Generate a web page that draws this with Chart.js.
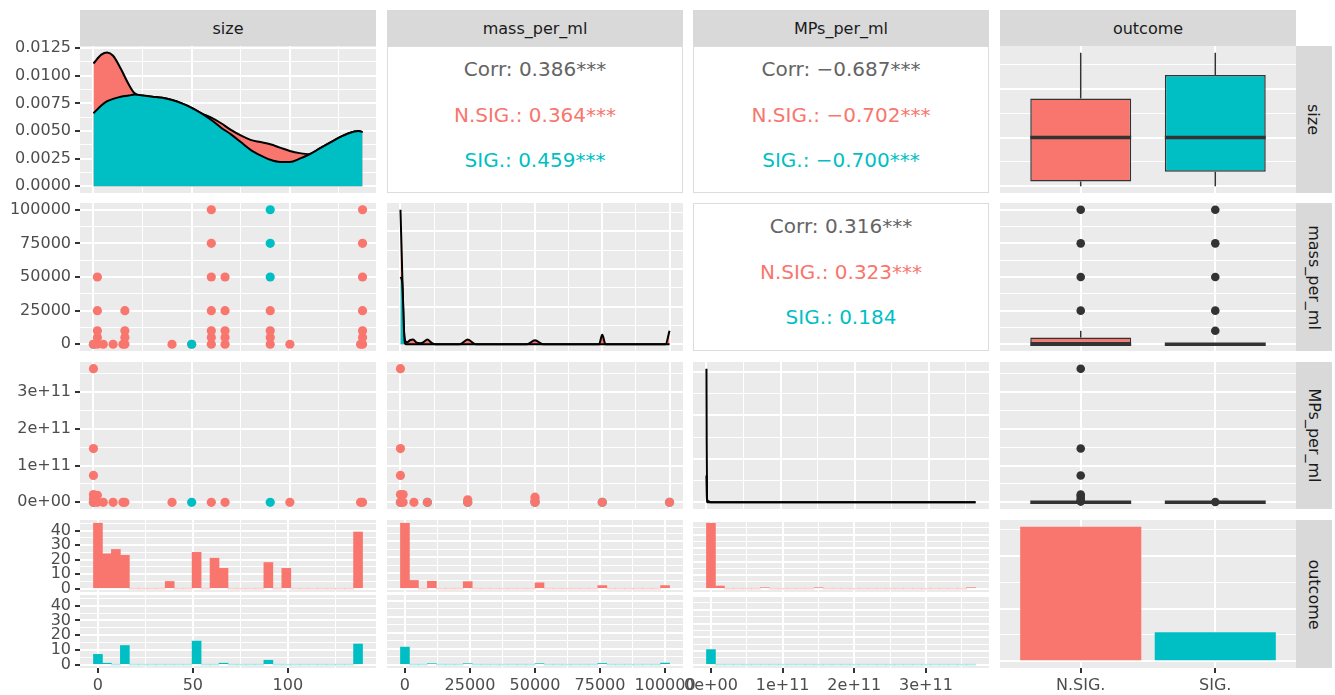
<!DOCTYPE html>
<html>
<head>
<meta charset="utf-8">
<title>Pairs matrix: size, mass_per_ml, MPs_per_ml, outcome</title>
<script src="https://cdn.jsdelivr.net/npm/chart.js@4.4.1/dist/chart.umd.min.js"></script>
<style>
  html, body { margin: 0; padding: 0; background: #ffffff; }
  #fig { position: relative; width: 1335px; height: 695px; overflow: hidden; font-family: "DejaVu Sans", sans-serif; }
  #fig canvas { position: absolute; }
  .strip { position: absolute; background: #D9D9D9; color: #1A1A1A; font-size: 16px;
           display: flex; align-items: center; justify-content: center; white-space: nowrap; }
  .strip.v span { display: inline-block; transform: rotate(90deg); }
  .corr { position: absolute; background: #ffffff; border: 1px solid #DCDCDC; box-sizing: border-box; }
  .corr div { position: absolute; left: 0; right: 0; text-align: center; font-size: 20px; line-height: 22px; white-space: nowrap; }
</style>
</head>
<body>
<div id="fig"></div>
<script>
// ------------------------------------------------------------------
// Data
// ------------------------------------------------------------------
const variables = ['size', 'mass_per_ml', 'MPs_per_ml', 'outcome'];
const outcomeLevels = ['N.SIG.', 'SIG.'];
const outcomeCounts = [255, 55];

// correlation summaries (overall, N.SIG., SIG.)
const corrSizeMass = ['0.386***', '0.364***', '0.459***'];
const corrSizeMps  = ['\u22120.687***', '\u22120.702***', '\u22120.700***'];
const corrMassMps  = ['0.316***', '0.323***', '0.184'];

// kernel density of size, by outcome
const sizeDensX    = [0, 4, 7, 10, 14, 18, 21, 25, 30, 35, 40, 45, 50, 55, 60, 65, 70, 75, 80, 85, 90, 95, 100, 105, 110, 115, 120, 125, 130, 135, 137];
const sizeDensNSIG = [0.0111, 0.0119, 0.0121, 0.0118, 0.0106, 0.0092, 0.0084, 0.0082, 0.0081, 0.0080, 0.0078, 0.0075, 0.0071, 0.0066, 0.0062, 0.0057, 0.0051, 0.0046, 0.0042, 0.0040, 0.0038, 0.0035, 0.0032, 0.0030, 0.0029, 0.0034, 0.0039, 0.0044, 0.0048, 0.0050, 0.0049];
const sizeDensSIG  = [0.0066, 0.0073, 0.0077, 0.0079, 0.0081, 0.0082, 0.0083, 0.0082, 0.0081, 0.0080, 0.0078, 0.0075, 0.0071, 0.0066, 0.0060, 0.0053, 0.0047, 0.0040, 0.0033, 0.0028, 0.0024, 0.0022, 0.0022, 0.0025, 0.0029, 0.0034, 0.0039, 0.0044, 0.0048, 0.0050, 0.0049];

// kernel density of mass_per_ml (relative height), by outcome
const massDensNSIGX = [0, 400, 800, 1200, 1700, 2500, 3500, 4700, 6000, 7500, 8500, 10000, 11500, 13000, 22000, 25000, 28000, 47000, 50000, 53000, 73800, 75000, 76200, 98500, 100000];
const massDensNSIG  = [1.0, 0.72, 0.42, 0.15, 0.03, 0.015, 0.03, 0.035, 0.012, 0.008, 0.015, 0.035, 0.012, 0, 0, 0.035, 0, 0, 0.03, 0, 0, 0.07, 0, 0, 0.1];
const massDensSIGX  = [0, 600, 1000, 1400, 2000, 100000];
const massDensSIG   = [0.5, 0.47, 0.3, 0.06, 0, 0];

// kernel density of MPs_per_ml (relative height), by outcome
const mpsDensNSIGX = [0, 3e8, 8e8, 2e9, 6e9, 3.63e11];
const mpsDensNSIG  = [1.0, 0.45, 0.03, 0.01, 0, 0];
const mpsDensSIGX  = [0, 4e8, 1e9, 3.63e11];
const mpsDensSIG   = [0.2, 0.05, 0, 0];

// size vs mass_per_ml
const sizeMassNSIG = [[0,0],[2,0],[2,5000],[2,10000],[2,25000],[2,50000],[5,0],[10,0],[15,0],[16,0],[16,5000],[16,10000],[16,25000],
  [40,0],[50,0],[60,0],[60,5000],[60,10000],[60,25000],[60,50000],[60,75000],[60,100000],
  [67,0],[67,5000],[67,10000],[67,25000],[67,50000],[90,0],[90,5000],[90,10000],[90,25000],[100,0],
  [136,0],[137,0],[137,5000],[137,10000],[137,25000],[137,50000],[137,75000],[137,100000]];
const sizeMassSIG = [[0,0],[50,0],[90,50000],[90,75000],[90,100000]];

// size vs MPs_per_ml
const sizeMpsNSIG = [[0,3.63e11],[0,1.46e11],[0,0.73e11],[0,0.21e11],[2,0.19e11],[0,0.1e11],[0,0],[2,0],[5,0],[10,0],[15,0],[16,0],
  [40,0],[60,0],[67,0],[100,0],[136,0],[137,0]];
const sizeMpsSIG = [[0,0],[50,0],[90,0]];

// mass_per_ml vs MPs_per_ml
const massMpsNSIG = [[0,3.63e11],[0,1.46e11],[0,0.73e11],[0,0.21e11],[1000,0.21e11],[0,0],[1000,0],[5000,0],[10000,0],
  [25000,0.07e11],[25000,0],[50000,0.14e11],[50000,0.05e11],[50000,0],[75000,0],[100000,0]];
const massMpsSIG = [[0,0],[10000,0],[25000,0],[50000,0],[75000,0],[100000,0]];

// box statistics per outcome: [lower whisker, Q1, median, Q3, upper whisker]
const sizeBox = [[0, 5, 50, 90, 137], [0, 15, 50, 114, 137]];
const massBox = [[0, 0, 0, 5000, 10000], [0, 0, 0, 0, 0]];
const massOutNSIG = [25000, 50000, 75000, 100000];
const massOutSIG  = [10000, 25000, 50000, 75000, 100000];
const mpsBox = [[0, 0, 0, 0, 0], [0, 0, 0, 0, 0]];
const mpsOutNSIG = [3.63e11, 1.46e11, 0.73e11, 0.21e11, 0.17e11, 0.1e11, 0.05e11, 0.02e11];
const mpsOutSIG  = [0.01e11];

// histogram counts, 30 bins each, by outcome
const sizeBinWidth = 137 / 29;
const sizeHistNSIG = [45,24,27,23,0,0,0,0,5,0,0,25,0,21,14,0,0,0,0,18,0,14,0,0,0,0,0,0,0,39];
const sizeHistSIG  = [7,1,0,13,0,0,0,0,0,0,0,16,0,0,1,0,0,0,0,3,0,0,0,0,0,0,0,0,0,14];
const massBinWidth = 100000 / 29;
const massHistNSIG = [166,21,0,19,0,0,0,18,0,0,0,0,0,0,0,15,0,0,0,0,0,0,8,0,0,0,0,0,0,8];
const massHistSIG  = [44,0,0,2,0,0,0,1,0,0,0,0,0,0,0,1,0,0,0,0,0,0,3,0,0,0,0,0,0,4];
const mpsBinWidth  = 3.63e11 / 29;
const mpsHistNSIG  = [242,10,0,0,0,0,1,0,0,0,0,0,1,0,0,0,0,0,0,0,0,0,0,0,0,0,0,0,0,1];
const mpsHistSIG   = [55,0,0,0,0,0,0,0,0,0,0,0,0,0,0,0,0,0,0,0,0,0,0,0,0,0,0,0,0,0];

// ------------------------------------------------------------------
// Styling and layout
// ------------------------------------------------------------------
const RED = '#F8766D', TEAL = '#00BFC4', DARK = '#333333';
const RED_ZERO = 'rgba(248,118,109,0.30)', TEAL_ZERO = 'rgba(0,191,196,0.30)';
const CORR_GREY = '#646464';
const FONT = {family: "'DejaVu Sans', sans-serif", size: 16};

const colX = [80, 387, 693, 1000], colW = 296;
const rowY = [46, 203, 362, 520], rowH = [147, 148, 147, 148];
const facetTop = {y: 520, h: 72}, facetBottom = {y: 595, h: 73};
const corrLineY = [22, 68, 113];

const fmtInt  = v => String(v);
const fmtDens = v => v.toFixed(4);
const fmtSci  = v => (v === 0 ? '0e+00' : (v / 1e11) + 'e+11');
const fmtOut  = v => outcomeLevels[v - 1];

const AX = {
  sizeX:     {min: -6.85, max: 143.85, majors: [0, 50, 100], minors: [25, 75, 125], fmt: fmtInt},
  sizeBinX:  {min: -9.45, max: 146.45, majors: [0, 50, 100], minors: [25, 75, 125], fmt: fmtInt},
  massX:     {min: -5000, max: 105000, majors: [0, 25000, 50000, 75000, 100000], minors: [12500, 37500, 62500, 87500], fmt: fmtInt},
  massBinX:  {min: -6896, max: 106896, majors: [0, 25000, 50000, 75000, 100000], minors: [12500, 37500, 62500, 87500], fmt: fmtInt},
  mpsX:      {min: -0.1815e11, max: 3.8115e11, majors: [0, 1e11, 2e11, 3e11], minors: [0.5e11, 1.5e11, 2.5e11, 3.5e11], fmt: fmtSci},
  mpsBinX:   {min: -0.2504e11, max: 3.8803e11, majors: [0, 1e11, 2e11, 3e11], minors: [0.5e11, 1.5e11, 2.5e11, 3.5e11], fmt: fmtSci},
  outX:      {min: 0.4, max: 2.6, majors: [1, 2], minors: [], fmt: fmtOut},
  sizeDensY: {min: -0.000604, max: 0.012684, majors: [0, 0.0025, 0.005, 0.0075, 0.01, 0.0125], minors: [0.00125, 0.00375, 0.00625, 0.00875, 0.01125], fmt: fmtDens},
  sizeY:     {min: -6.85, max: 143.85, majors: [0, 50, 100], minors: [25, 75, 125], fmt: fmtInt},
  massY:     {min: -5000, max: 105000, majors: [0, 25000, 50000, 75000, 100000], minors: [12500, 37500, 62500, 87500], fmt: fmtInt},
  mpsY:      {min: -0.1815e11, max: 3.8115e11, majors: [0, 1e11, 2e11, 3e11], minors: [0.5e11, 1.5e11, 2.5e11, 3.5e11], fmt: fmtSci},
  massDensY: {min: -0.05, max: 1.05, majors: [0, 0.28, 0.56, 0.84], minors: [0.14, 0.42, 0.7, 0.98], fmt: fmtInt},
  mpsDensY:  {min: -0.05, max: 1.05, majors: [0, 0.325, 0.65, 0.975], minors: [0.1625, 0.4875, 0.8125], fmt: fmtInt},
  countY:    {min: -2.25, max: 47.25, majors: [0, 10, 20, 30, 40], minors: [5, 15, 25, 35, 45], fmt: fmtInt},
  massCountY:{min: -8.3, max: 174.3, majors: [0, 40, 80, 120, 160], minors: [20, 60, 100, 140], fmt: fmtInt},
  mpsCountY: {min: -12.1, max: 254.1, majors: [0, 50, 100, 150, 200, 250], minors: [25, 75, 125, 175, 225], fmt: fmtInt},
  outCountY: {min: -12.75, max: 267.75, majors: [0, 100, 200], minors: [50, 150, 250], fmt: fmtInt}
};

// ------------------------------------------------------------------
// Helpers
// ------------------------------------------------------------------
const fig = document.getElementById('fig');
Chart.defaults.font.family = FONT.family;

const pts  = arr => arr.map(([x, y]) => ({x, y}));
const zip  = (xs, ys) => xs.map((x, i) => ({x, y: ys[i]}));
const bins = (counts, width) => counts.map((c, k) => ({x: k * width, y: c}));

const panelBg = {
  id: 'panelBg',
  beforeDraw(chart) {
    const {ctx, chartArea: a} = chart;
    ctx.save();
    ctx.fillStyle = '#EBEBEB';
    ctx.fillRect(a.left, a.top, a.right - a.left, a.bottom - a.top);
    ctx.restore();
  }
};

// whiskers and median bar, drawn right after the box dataset
const boxWhiskers = {
  id: 'boxWhiskers',
  afterDatasetDraw(chart, args, opts) {
    if (!opts || !opts.stats || args.index !== opts.boxIndex) return;
    const {ctx, scales: {x, y}} = chart;
    ctx.save();
    ctx.strokeStyle = DARK;
    opts.stats.forEach((s, i) => {
      const pos = i + 1;
      const cx = x.getPixelForValue(pos);
      const hw = x.getPixelForValue(pos + opts.width / 2) - cx;
      const [lo, q1, med, q3, hi] = s.map(v => y.getPixelForValue(v));
      ctx.lineWidth = 1.5;
      ctx.beginPath();
      ctx.moveTo(cx, q3); ctx.lineTo(cx, hi);
      ctx.moveTo(cx, q1); ctx.lineTo(cx, lo);
      ctx.stroke();
      ctx.lineWidth = 3.5;
      ctx.beginPath();
      ctx.moveTo(cx - hw, med); ctx.lineTo(cx + hw, med);
      ctx.stroke();
    });
    ctx.restore();
  }
};

function scaleCfg(o, show, room, horizontal) {
  return {
    type: 'linear', min: o.min, max: o.max, bounds: 'data', offset: false,
    afterBuildTicks(s) {
      s.ticks = o.majors.map(v => ({value: v, isMajor: true}))
        .concat((o.minors || []).map(v => ({value: v, isMajor: false})))
        .sort((a, b) => a.value - b.value);
    },
    afterFit(s) {
      if (horizontal) s.height = show ? room : 0; else s.width = show ? room : 0;
    },
    ticks: {
      display: show, autoSkip: false, maxRotation: 0, minRotation: 0,
      padding: horizontal ? 3 : 4, font: FONT, color: '#4D4D4D',
      callback(v, i, ts) { return ts[i].isMajor ? o.fmt(v) : ''; }
    },
    grid: {
      offset: false, drawOnChartArea: true, color: '#FFFFFF',
      lineWidth: c => (c.tick && c.tick.isMajor) ? 2 : 1,
      drawTicks: show, tickLength: 5, tickWidth: 2,
      tickColor: c => (c.tick && c.tick.isMajor) ? DARK : 'rgba(0,0,0,0)'
    },
    border: {display: false}
  };
}

function makePanel(rect, cfg) {
  const M = 25, Y_ROOM = 80, X_ROOM = 27;
  const left = cfg.showY ? Y_ROOM : M;
  const bottom = cfg.showX ? X_ROOM : M;
  const cw = rect.w + left + M, ch = rect.h + M + bottom;
  const canvas = document.createElement('canvas');
  canvas.width = cw; canvas.height = ch;
  Object.assign(canvas.style, {left: (rect.x - left) + 'px', top: (rect.y - M) + 'px', width: cw + 'px', height: ch + 'px'});
  fig.appendChild(canvas);
  return new Chart(canvas, {
    type: cfg.type,
    data: {datasets: cfg.datasets},
    options: {
      responsive: false, maintainAspectRatio: false, animation: false, devicePixelRatio: 1, events: [],
      layout: {autoPadding: false, padding: {left: cfg.showY ? 0 : M, right: M, top: M, bottom: cfg.showX ? 0 : M}},
      plugins: Object.assign({legend: {display: false}, tooltip: {enabled: false}}, cfg.pluginOptions || {}),
      scales: {
        x: scaleCfg(cfg.xAxis, !!cfg.showX, X_ROOM, true),
        y: scaleCfg(cfg.yAxis, !!cfg.showY, Y_ROOM, false)
      }
    },
    plugins: [panelBg].concat(cfg.extraPlugins || [])
  });
}

const rectOf = (c, r) => ({x: colX[c], y: rowY[r], w: colW, h: rowH[r]});
const facetRect = (c, f) => ({x: colX[c], y: f.y, w: colW, h: f.h});

const densityDs = (data, fill) => ({
  type: 'line', data, borderColor: '#000000', borderWidth: 2, backgroundColor: fill, fill: 'origin',
  pointRadius: 0, cubicInterpolationMode: 'monotone'
});
const scatterDs = (data, color, r) => ({type: 'scatter', data, backgroundColor: color, borderWidth: 0, pointRadius: r || 4.6});
const histDs = (data, color, zero) => ({
  type: 'bar', data, backgroundColor: c => (c.raw && c.raw.y === 0) ? zero : color,
  barPercentage: 1, categoryPercentage: 1, minBarLength: 1, borderWidth: 0
});
const boxDatasets = (stats, outNSIG, outSIG) => [
  scatterDs(outNSIG.map(v => ({x: 1, y: v})).concat(outSIG.map(v => ({x: 2, y: v}))), DARK, 4.3),
  {type: 'bar', data: stats.map((s, i) => ({x: i + 1, y: [s[1], s[3]]})), backgroundColor: [RED, TEAL],
   borderColor: DARK, borderWidth: 1.5, borderSkipped: false, barPercentage: 0.75, categoryPercentage: 1}
];
// size scatter layers: SIG. points sit over N.SIG., except at size 0 where N.SIG. covers them
const sizeScatterDs = (nsig, sig) => [
  scatterDs(pts(sig.filter(p => p[0] !== 0)), TEAL),
  scatterDs(pts(nsig), RED),
  scatterDs(pts(sig.filter(p => p[0] === 0)), TEAL)
];

// ------------------------------------------------------------------
// Strips
// ------------------------------------------------------------------
variables.forEach((name, c) => {
  const d = document.createElement('div');
  d.className = 'strip';
  Object.assign(d.style, {left: colX[c] + 'px', top: '10px', width: colW + 'px', height: '36px'});
  d.textContent = name;
  fig.appendChild(d);
});
variables.forEach((name, r) => {
  const d = document.createElement('div');
  d.className = 'strip v';
  Object.assign(d.style, {left: '1296px', top: rowY[r] + 'px', width: '36px', height: rowH[r] + 'px'});
  const s = document.createElement('span');
  s.textContent = name;
  d.appendChild(s);
  fig.appendChild(d);
});

// ------------------------------------------------------------------
// Correlation panels
// ------------------------------------------------------------------
function corrPanel(c, r, vals) {
  const d = document.createElement('div');
  d.className = 'corr';
  Object.assign(d.style, {left: colX[c] + 'px', top: rowY[r] + 'px', width: colW + 'px', height: rowH[r] + 'px'});
  const lines = [['Corr: ' + vals[0], CORR_GREY], ['N.SIG.: ' + vals[1], RED], ['SIG.: ' + vals[2], TEAL]];
  lines.forEach(([txt, col], k) => {
    const t = document.createElement('div');
    t.textContent = txt;
    t.style.top = (corrLineY[k] - 11) + 'px';
    t.style.color = col;
    d.appendChild(t);
  });
  fig.appendChild(d);
}
corrPanel(1, 0, corrSizeMass);
corrPanel(2, 0, corrSizeMps);
corrPanel(2, 1, corrMassMps);

// ------------------------------------------------------------------
// Row 1: size
// ------------------------------------------------------------------
makePanel(rectOf(0, 0), {
  type: 'line', showY: true, xAxis: AX.sizeX, yAxis: AX.sizeDensY,
  datasets: [densityDs(zip(sizeDensX, sizeDensSIG), TEAL), densityDs(zip(sizeDensX, sizeDensNSIG), RED)]
});
makePanel(rectOf(3, 0), {
  type: 'bar', xAxis: AX.outX, yAxis: AX.sizeY,
  datasets: boxDatasets(sizeBox, [], []),
  extraPlugins: [boxWhiskers], pluginOptions: {boxWhiskers: {stats: sizeBox, width: 0.75, boxIndex: 1}}
});

// ------------------------------------------------------------------
// Row 2: mass_per_ml
// ------------------------------------------------------------------
makePanel(rectOf(0, 1), {
  type: 'scatter', showY: true, xAxis: AX.sizeX, yAxis: AX.massY,
  datasets: sizeScatterDs(sizeMassNSIG, sizeMassSIG)
});
makePanel(rectOf(1, 1), {
  type: 'line', xAxis: AX.massX, yAxis: AX.massDensY,
  datasets: [densityDs(zip(massDensSIGX, massDensSIG), TEAL), densityDs(zip(massDensNSIGX, massDensNSIG), RED)]
});
makePanel(rectOf(3, 1), {
  type: 'bar', xAxis: AX.outX, yAxis: AX.massY,
  datasets: boxDatasets(massBox, massOutNSIG, massOutSIG),
  extraPlugins: [boxWhiskers], pluginOptions: {boxWhiskers: {stats: massBox, width: 0.75, boxIndex: 1}}
});

// ------------------------------------------------------------------
// Row 3: MPs_per_ml
// ------------------------------------------------------------------
makePanel(rectOf(0, 2), {
  type: 'scatter', showY: true, xAxis: AX.sizeX, yAxis: AX.mpsY,
  datasets: sizeScatterDs(sizeMpsNSIG, sizeMpsSIG)
});
makePanel(rectOf(1, 2), {
  type: 'scatter', xAxis: AX.massX, yAxis: AX.mpsY,
  datasets: [scatterDs(pts(massMpsNSIG), RED), scatterDs(pts(massMpsSIG), TEAL)]
});
makePanel(rectOf(2, 2), {
  type: 'line', xAxis: AX.mpsX, yAxis: AX.mpsDensY,
  datasets: [densityDs(zip(mpsDensSIGX, mpsDensSIG), TEAL), densityDs(zip(mpsDensNSIGX, mpsDensNSIG), RED)]
});
makePanel(rectOf(3, 2), {
  type: 'bar', xAxis: AX.outX, yAxis: AX.mpsY,
  datasets: boxDatasets(mpsBox, mpsOutNSIG, mpsOutSIG),
  extraPlugins: [boxWhiskers], pluginOptions: {boxWhiskers: {stats: mpsBox, width: 0.75, boxIndex: 1}}
});

// ------------------------------------------------------------------
// Row 4: outcome (faceted histograms and counts)
// ------------------------------------------------------------------
makePanel(facetRect(0, facetTop), {
  type: 'bar', showY: true, xAxis: AX.sizeBinX, yAxis: AX.countY,
  datasets: [histDs(bins(sizeHistNSIG, sizeBinWidth), RED, RED_ZERO)]
});
makePanel(facetRect(0, facetBottom), {
  type: 'bar', showY: true, showX: true, xAxis: AX.sizeBinX, yAxis: AX.countY,
  datasets: [histDs(bins(sizeHistSIG, sizeBinWidth), TEAL, TEAL_ZERO)]
});
makePanel(facetRect(1, facetTop), {
  type: 'bar', xAxis: AX.massBinX, yAxis: AX.massCountY,
  datasets: [histDs(bins(massHistNSIG, massBinWidth), RED, RED_ZERO)]
});
makePanel(facetRect(1, facetBottom), {
  type: 'bar', showX: true, xAxis: AX.massBinX, yAxis: AX.massCountY,
  datasets: [histDs(bins(massHistSIG, massBinWidth), TEAL, TEAL_ZERO)]
});
makePanel(facetRect(2, facetTop), {
  type: 'bar', xAxis: AX.mpsBinX, yAxis: AX.mpsCountY,
  datasets: [histDs(bins(mpsHistNSIG, mpsBinWidth), RED, RED_ZERO)]
});
makePanel(facetRect(2, facetBottom), {
  type: 'bar', showX: true, xAxis: AX.mpsBinX, yAxis: AX.mpsCountY,
  datasets: [histDs(bins(mpsHistSIG, mpsBinWidth), TEAL, TEAL_ZERO)]
});
makePanel(rectOf(3, 3), {
  type: 'bar', showX: true, xAxis: AX.outX, yAxis: AX.outCountY,
  datasets: [{type: 'bar', data: outcomeCounts.map((n, i) => ({x: i + 1, y: n})), backgroundColor: [RED, TEAL],
              borderWidth: 0, barPercentage: 0.9, categoryPercentage: 1}]
});
</script>
</body>
</html>
